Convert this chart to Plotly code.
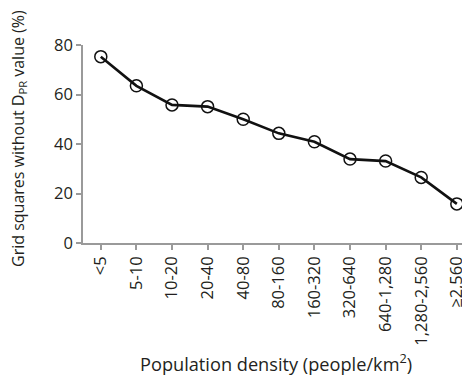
import plotly.graph_objects as go

categories = ["<5", "5-10", "10-20", "20-40", "40-80", "80-160", "160-320",
              "320-640", "640-1,280", "1,280-2,560", "≥2,560"]
values = [75.3, 63.5, 55.8, 55.1, 50.0, 44.3, 40.9, 33.9, 33.1, 26.5, 15.8]
y_ticks = [0, 20, 40, 60, 80]

FONT = "Open Sans, DejaVu Sans, sans-serif"
TXT = "#231f20"
AX = "#9a9a9a"

# page body has an 8px offset; layout numbers below are in figure coordinates
L, R, T, B = 75, 8, 37, 143
W, H = 470, 378
PW, PH = W - L - R, H - T - B

fig = go.Figure()
fig.add_trace(go.Scatter(
    x=list(range(len(categories))), y=values, mode="lines+markers",
    line=dict(color="#111111", width=2.6),
    marker=dict(symbol="circle-open", size=12, color="#111111", line=dict(width=1.5)),
    showlegend=False, cliponaxis=False,
))

fig.update_layout(
    width=W, height=H,
    margin=dict(l=L, r=R, t=T, b=B),
    paper_bgcolor="white", plot_bgcolor="white",
    font=dict(family=FONT, color=TXT, size=16),
    xaxis=dict(
        range=[-0.5, 10.37], tickmode="array",
        tickvals=list(range(len(categories))), ticktext=categories,
        tickangle=-90, showgrid=False, zeroline=False,
        showline=True, linecolor=AX, linewidth=1.5,
        ticks="outside", ticklen=5, tickcolor=AX, tickwidth=1.5,
        tickson="boundaries", tickfont=dict(size=16.5, color=TXT),
        automargin=False,
    ),
    yaxis=dict(
        range=[0, 80], tickvals=y_ticks, showgrid=False, zeroline=False,
        showline=True, linecolor=AX, linewidth=1.5,
        ticks="outside", ticklen=5, tickcolor=AX, tickwidth=1.5,
        tickfont=dict(size=16.5, color=TXT), automargin=False,
    ),
    annotations=[
        dict(text="Grid squares without D<sub>PR</sub> value (%)",
             xref="paper", yref="paper", x=(10 - L) / PW, y=(235 - 131) / PH,
             xanchor="center", yanchor="middle", textangle=-90, showarrow=False,
             font=dict(size=16, color=TXT, family=FONT)),
        dict(text="Population density (people/km<sup>2</sup>)",
             xref="paper", yref="paper", x=(268 - L) / PW, y=(235 - 354) / PH,
             xanchor="center", yanchor="middle", showarrow=False,
             font=dict(size=18.2, color=TXT, family=FONT)),
    ],
)

fig.write_html("out.html")
